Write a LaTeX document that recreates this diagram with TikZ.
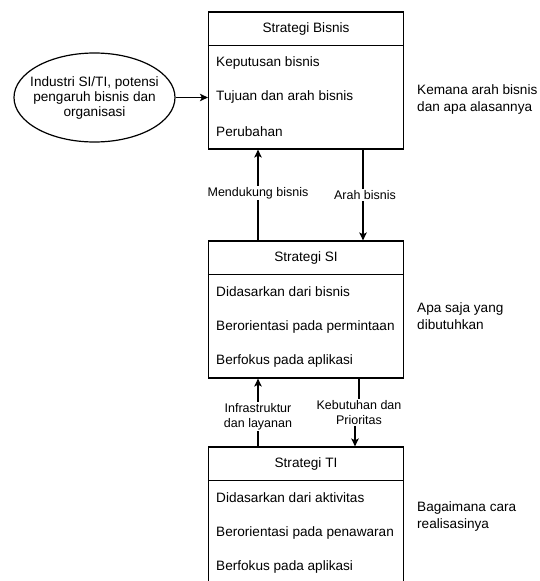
\documentclass[tikz,border=0pt]{standalone}
\usepackage{fontspec}
\setmainfont{Liberation Sans}
\usetikzlibrary{shapes.geometric,arrows.meta}
\tikzset{
  box/.style={draw, line width=1.2pt, minimum width=195pt, minimum height=137pt, inner sep=0pt},
  head/.style={inner sep=0pt, font=\fontsize{13.6}{15}\selectfont},
  item/.style={inner sep=0pt, anchor=west, font=\fontsize{13.6}{15}\selectfont},
  side/.style={inner sep=0pt, anchor=west, align=left, font=\fontsize{13.6}{17}\selectfont},
  lab/.style={fill=white, inner sep=1pt, align=center, font=\fontsize{12.5}{15}\selectfont},
  arr/.style={line width=1.2pt, -{Stealth[length=8pt,width=7.5pt,inset=2pt]}},
  oval/.style={draw, ellipse, line width=1.2pt, minimum width=161pt, minimum height=89pt, inner sep=0pt},
  ovaltext/.style={inner sep=0pt, align=center, font=\fontsize{13.6}{15}\selectfont}
}
\begin{document}
\begin{tikzpicture}[x=1pt,y=-1pt]
\useasboundingbox (0,0) rectangle (540,581);
\clip (0,0) rectangle (540,581);
\fill[white] (0,0) rectangle (540,581);
% boxes
\node[box] (b1) at (306,80.5) {};
\node[box] (b2) at (306,309.5) {};
\node[box] (b3) at (306,515.5) {};
\foreach \b in {b1,b2,b3}{
  \draw[line width=1.2pt] ([yshift=-34pt]\b.north west) -- ([yshift=-34pt]\b.north east);
}
% box 1
\node[head] (h1) at (306,29) {Strategi Bisnis};
\node[item] (i11) at (216,63) {Keputusan bisnis};
\node[item] (i12) at (216,97) {Tujuan dan arah bisnis};
\node[item] (i13) at (216,132) {Perubahan};
% box 2
\node[head] (h2) at (306,258) {Strategi SI};
\node[item] (i21) at (216,292) {Didasarkan dari bisnis};
\node[item] (i22) at (216,326.5) {Berorientasi pada permintaan};
\node[item] (i23) at (216,360.5) {Berfokus pada aplikasi};
% box 3
\node[head] (h3) at (306,464) {Strategi TI};
\node[item] (i31) at (216,498) {Didasarkan dari aktivitas};
\node[item] (i32) at (216,533) {Berorientasi pada penawaran};
\node[item] (i33) at (216,567) {Berfokus pada aplikasi};
% side texts
\node[side] (s1) at (417,99.5) {Kemana arah bisnis\\dan apa alasannya};
\node[side] (s2) at (417,316) {Apa saja yang\\dibutuhkan};
\node[side] (s3) at (417,516) {Bagaimana cara\\realisasinya};
% ellipse
\node[oval] (e) at (94.5,97.5) {};
\node[ovaltext] (et) at (e.center) {Industri SI/TI, potensi\\pengaruh bisnis dan\\organisasi};
\draw[arr] (e.east) -- (e.east -| b1.west);
% connectors
\coordinate (c1) at (258,193);
\coordinate (c2) at (363,195);
\coordinate (c3) at (258,416.5);
\coordinate (c4) at (359,412.5);
\coordinate (c5) at (355,412.5);
\draw[arr] (b2.north -| c1) -- (b1.south -| c1);
\draw[arr] (b1.south -| c2) -- (b2.north -| c2);
\draw[arr] (b3.north -| c3) -- (b2.south -| c3);
\draw[arr] (b2.south -| c4) |- (c5) -- (b3.north -| c5);
\node[lab] (l1) at (c1) {Mendukung bisnis};
\node[lab] (l2) at (365,195) {Arah bisnis};
\node[lab] (l3) at (c3) {Infrastruktur\\dan layanan};
\node[lab] (l4) at (c4) {Kebutuhan dan\\Prioritas};
\end{tikzpicture}
\end{document}
